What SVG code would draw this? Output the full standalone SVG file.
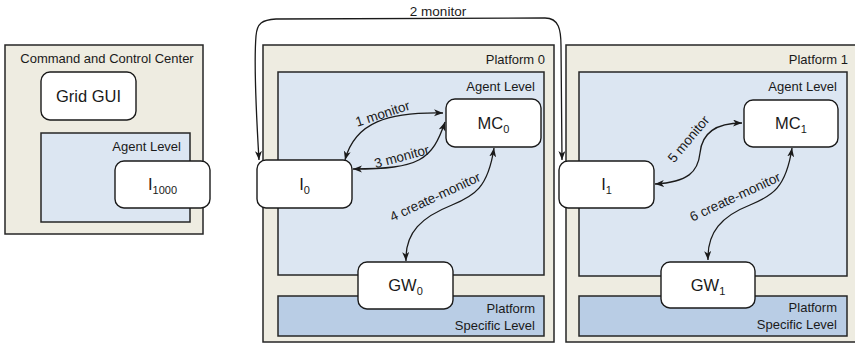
<svg xmlns="http://www.w3.org/2000/svg" width="855" height="344" viewBox="0 0 855 344">
<style>
  .outer { fill: #EEECE1; stroke: #262626; stroke-width: 1.5; }
  .agent { fill: #DCE6F2; stroke: #262626; stroke-width: 1.5; }
  .psl { fill: #B9CDE5; stroke: #262626; stroke-width: 1.5; }
  .node { fill: #FFFFFF; stroke: #1A1A1A; stroke-width: 1.4; }
  text { font-family: "Liberation Sans", Arial, sans-serif; fill: #1A1A1A; }
  .title { font-size: 13px; text-anchor: end; }
  .nlabel { font-size: 16.5px; text-anchor: middle; }
  .sub { font-size: 11px; }
  .clabel { font-size: 13.5px; text-anchor: middle; }
  .conn { fill: none; stroke: #1A1A1A; stroke-width: 1.3; marker-start: url(#arr); marker-end: url(#arr); }
</style>
<defs>
  <marker id="arr" markerUnits="userSpaceOnUse" markerWidth="10" markerHeight="8" refX="9" refY="3.5" orient="auto-start-reverse">
    <path d="M0,0 L9,3.5 L0,7 L2.5,3.5 z" fill="#1A1A1A"/>
  </marker>
</defs>

<!-- Command and Control Center -->
<g id="ccc">
  <rect class="outer" x="5" y="45" width="198" height="189"/>
  <text x="107" y="63" style="font-size:13px;text-anchor:middle">Command and Control Center</text>
</g>
<g id="ccc-agent-level">
  <rect class="agent" x="41" y="133" width="149" height="89"/>
  <text class="title" x="181" y="151">Agent Level</text>
</g>
<g id="grid-gui">
  <rect class="node" x="41" y="72" width="95" height="48" rx="9"/>
  <text class="nlabel" x="88.5" y="102">Grid GUI</text>
</g>
<g id="i1000">
  <rect class="node" x="115" y="161" width="95" height="47" rx="9"/>
  <text class="nlabel" x="162.5" y="190">I<tspan class="sub" dy="4">1000</tspan></text>
</g>

<!-- Platform 0 -->
<g id="platform0">
  <rect class="outer" x="263" y="45" width="291" height="297"/>
  <text class="title" x="545" y="64">Platform 0</text>
</g>
<g id="p0-agent-level">
  <rect class="agent" x="278" y="72" width="266" height="203"/>
  <text class="title" x="535" y="91">Agent Level</text>
</g>
<g id="p0-psl">
  <rect class="psl" x="278" y="296" width="266" height="40"/>
  <text class="title" x="535" y="313">Platform</text>
  <text class="title" x="535" y="330">Specific Level</text>
</g>
<g id="mc0">
  <rect class="node" x="446" y="99" width="95" height="48" rx="9"/>
  <text class="nlabel" x="493.5" y="129">MC<tspan class="sub" dy="4">0</tspan></text>
</g>
<g id="i0">
  <rect class="node" x="257" y="160" width="95" height="48" rx="9"/>
  <text class="nlabel" x="304.5" y="190">I<tspan class="sub" dy="4">0</tspan></text>
</g>
<g id="gw0">
  <rect class="node" x="358" y="262" width="95" height="47" rx="9"/>
  <text class="nlabel" x="405.5" y="291">GW<tspan class="sub" dy="4">0</tspan></text>
</g>

<!-- Platform 1 -->
<g id="platform1">
  <rect class="outer" x="566" y="45" width="292" height="297"/>
  <text class="title" x="848" y="64">Platform 1</text>
</g>
<g id="p1-agent-level">
  <rect class="agent" x="579" y="72" width="268" height="204"/>
  <text class="title" x="837" y="91">Agent Level</text>
</g>
<g id="p1-psl">
  <rect class="psl" x="579" y="296" width="268" height="40"/>
  <text class="title" x="837" y="312">Platform</text>
  <text class="title" x="837" y="329">Specific Level</text>
</g>
<g id="mc1">
  <rect class="node" x="744" y="100" width="94" height="47" rx="9"/>
  <text class="nlabel" x="791" y="129">MC<tspan class="sub" dy="4">1</tspan></text>
</g>
<g id="i1">
  <rect class="node" x="559" y="161" width="95" height="47" rx="9"/>
  <text class="nlabel" x="606.5" y="190">I<tspan class="sub" dy="4">1</tspan></text>
</g>
<g id="gw1">
  <rect class="node" x="661" y="262" width="94" height="46" rx="9"/>
  <text class="nlabel" x="708" y="291">GW<tspan class="sub" dy="4">1</tspan></text>
</g>

<!-- Connectors -->
<g id="connectors">
  <path class="conn" d="M259,160 C 256,110 254,60 256,36 C 257,23 262,20 276,19 L 545,18 C 559,18 561,30 561,46 L 562,160"/>
  <path class="conn" d="M345,160 C 355,122 388,112 443,113"/>
  <path class="conn" d="M353,169 C 420,169 432,160 445,122"/>
  <path class="conn" d="M494,148 C 488,188 474,196 452,205 C 422,217 405,232 406,261"/>
  <path class="conn" d="M655,184 C 688,182 698,172 700,153 C 702,132 718,123 742,123"/>
  <path class="conn" d="M792,148 C 786,188 772,196 750,205 C 722,216 707,232 708,260"/>
  <text class="clabel" x="438" y="16">2 monitor</text>
  <text class="clabel" transform="translate(384,118) rotate(-18)">1 monitor</text>
  <text class="clabel" transform="translate(403,161) rotate(-15)">3 monitor</text>
  <text class="clabel" transform="translate(437,201) rotate(-25)">4 create-monitor</text>
  <text class="clabel" transform="translate(692,142) rotate(-50)">5 monitor</text>
  <text class="clabel" transform="translate(737,201) rotate(-25)">6 create-monitor</text>
</g>
</svg>
